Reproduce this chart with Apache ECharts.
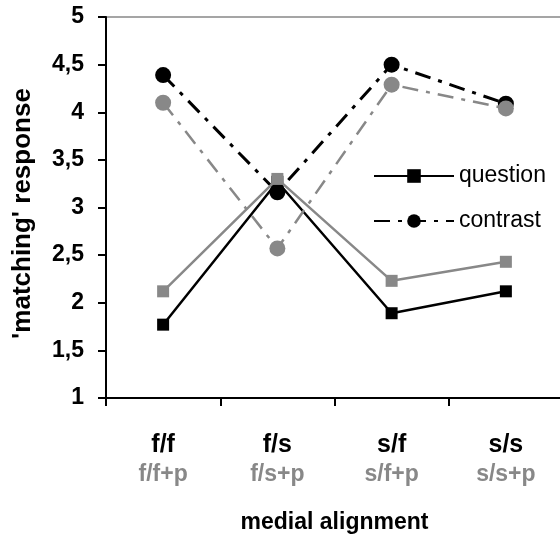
<!DOCTYPE html>
<html><head><meta charset="utf-8">
<script src="https://cdn.jsdelivr.net/npm/echarts@6/dist/echarts.min.js"></script>
<style>html,body{margin:0;padding:0;background:#fff}#c{width:560px;height:535px}</style>
</head><body><div id="c"></div>
<script>
const categories = ['f/f', 'f/s', 's/f', 's/s'];
const subCategories = ['f/f+p', 'f/s+p', 's/f+p', 's/s+p'];
const questionBlack = [1.77, 3.27, 1.89, 2.12];
const questionGray = [2.12, 3.30, 2.23, 2.43];
const contrastBlack = [4.39, 3.16, 4.50, 4.09];
const contrastGray = [4.10, 2.57, 4.29, 4.04];
const yTicks = [1, 1.5, 2, 2.5, 3, 3.5, 4, 4.5, 5];

const F = 'Liberation Sans, Arial, sans-serif';
const chart = echarts.init(document.getElementById('c'));
const dashDot = [16, 8, 4, 8];
chart.setOption({
  animation: false,
  textStyle: { fontFamily: F },
  grid: { left: 106, right: -3, top: 17, bottom: 137, show: true, borderColor: '#888', borderWidth: 1.5,
          containLabel: false, outerBoundsMode: 'none' },
  legend: {
    data: ['question', 'contrast'],
    left: 368, top: 158, orient: 'vertical', itemGap: 19,
    itemWidth: 80, itemHeight: 17,
    textStyle: { fontSize: 23, lineHeight: 26, color: '#000', fontFamily: F }
  },
  xAxis: {
    type: 'category', data: categories,
    axisLine: { lineStyle: { color: '#000', width: 2 } },
    axisTick: { show: true, length: 8, inside: false, lineStyle: { color: '#000', width: 2 } },
    axisLabel: {
      margin: 32, interval: 0,
      formatter: (v, i) => '{a|' + v + '}\n{b|' + subCategories[i] + '}',
      rich: {
        a: { fontSize: 25, fontWeight: 'bold', color: '#000', fontFamily: F, lineHeight: 30 },
        b: { fontSize: 23, fontWeight: 'bold', color: '#888', fontFamily: F, lineHeight: 30 }
      }
    },
    name: 'medial alignment', nameLocation: 'middle', nameGap: 113,
    nameTextStyle: { fontSize: 23, fontWeight: 'bold', color: '#000', fontFamily: F }
  },
  yAxis: {
    type: 'value', min: 1, max: 5, interval: 0.5,
    axisLine: { show: true, lineStyle: { color: '#000', width: 2 } },
    axisTick: { show: true, length: 8, lineStyle: { color: '#000', width: 2 } },
    splitLine: { show: false },
    axisLabel: {
      margin: 22, fontSize: 23, fontWeight: 'bold', color: '#000', fontFamily: F,
      formatter: v => yTicks.includes(v) ? String(v).replace('.', ',') : ''
    },
    name: "'matching' response", nameLocation: 'middle', nameGap: 70, nameRotate: 90,
    nameTextStyle: { fontSize: 26, fontWeight: 'bold', color: '#000', fontFamily: F, padding: [0, 12, 0, 0] }
  },
  series: [
    { name: 'question gray', type: 'line', data: questionGray, symbol: 'rect', symbolSize: 12,
      itemStyle: { color: '#888' }, lineStyle: { color: '#888', width: 2.5 }, z: 2 },
    { name: 'contrast gray', type: 'line', data: contrastGray, symbol: 'circle', symbolSize: 16,
      itemStyle: { color: '#888' }, lineStyle: { color: '#888', width: 2.5, type: dashDot }, z: 2 },
    { name: 'question', type: 'line', data: questionBlack, symbol: 'rect', symbolSize: 12,
      itemStyle: { color: '#000' }, lineStyle: { color: '#000', width: 2.5 }, z: 1 },
    { name: 'contrast', type: 'line', data: contrastBlack, symbol: 'circle', symbolSize: 16,
      itemStyle: { color: '#000' }, lineStyle: { color: '#000', width: 3, type: dashDot }, z: 1 }
  ]
});
</script></body></html>
